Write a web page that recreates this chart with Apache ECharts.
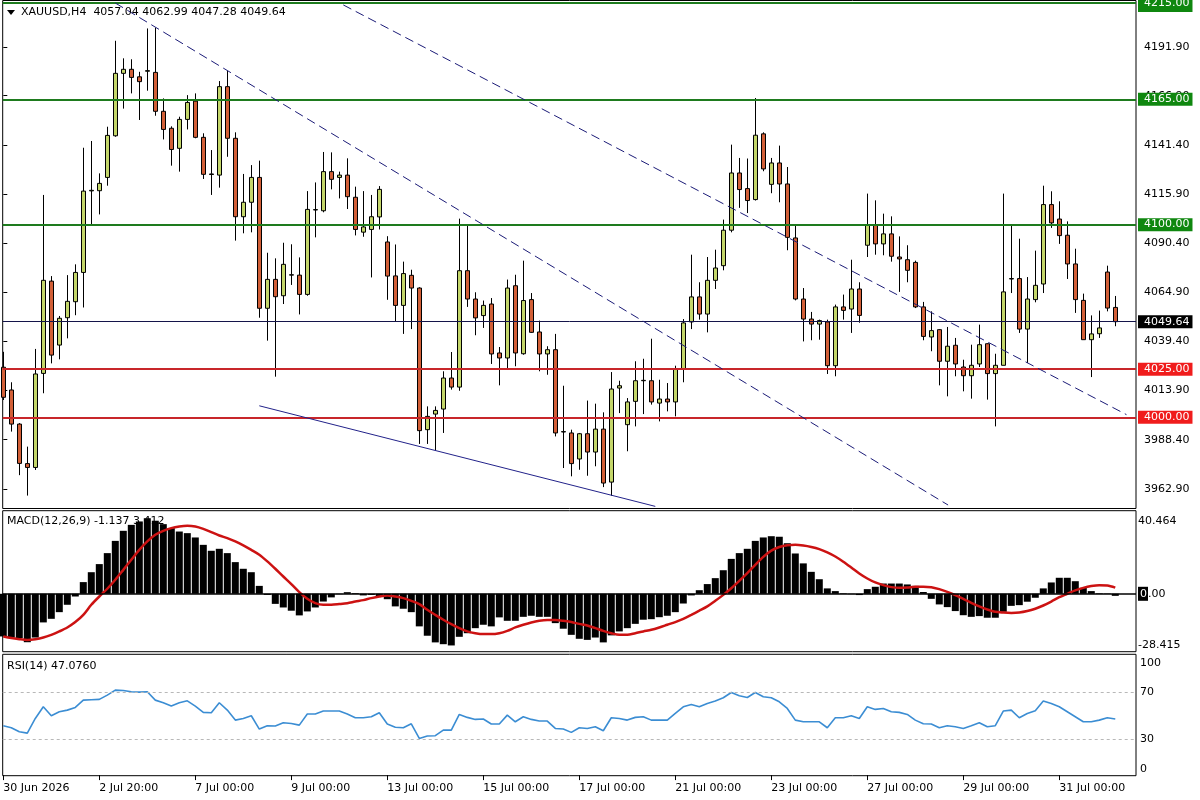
<!DOCTYPE html>
<html><head><meta charset="utf-8">
<script src="https://cdn.jsdelivr.net/npm/echarts@6/dist/echarts.min.js"></script>
<style>html,body{margin:0;padding:0;background:#fff}#c{width:1200px;height:800px}</style>
</head><body><div id="c"></div>
<script>
const symbol = 'XAUUSD,H4';
const opens = [4026.0,4014.2,3996.5,3976.0,3974.0,4022.8,4070.7,4037.5,4051.7,4060.0,
4075.2,4117.5,4117.6,4124.5,4146.1,4178.5,4180.6,4176.7,4179.6,4179.0,
4158.8,4150.0,4139.6,4154.6,4164.1,4145.3,4126.0,4125.7,4171.6,4144.8,
4104.1,4111.6,4124.5,4056.6,4071.6,4063.1,4073.8,4073.8,4063.8,4107.6,
4107.2,4127.5,4124.5,4125.7,4114.2,4096.1,4097.5,4104.0,4091.0,4073.4,
4058.1,4073.7,4067.1,3993.6,4001.7,4004.3,4020.4,4015.7,4076.1,4061.4,
4052.8,4058.8,4033.4,4030.8,4068.3,4033.0,4061.1,4044.3,4032.9,4035.1,
3992.4,3991.9,3978.4,3991.5,3982.0,3993.9,3966.4,4015.2,3996.2,4008.3,
4019.0,4019.0,4007.4,4009.5,4008.0,4025.1,4049.5,4062.5,4053.6,4071.1,
4078.7,4097.1,4126.8,4118.7,4113.0,4147.1,4120.9,4132.0,4121.1,4093.1,
4061.4,4051.0,4048.4,4049.5,4026.8,4057.3,4056.2,4066.6,4089.3,4100.0,
4090.0,4095.2,4083.2,4081.8,4080.4,4057.3,4041.7,4045.5,4029.1,4037.4,
4026.1,4021.6,4027.7,4038.2,4022.7,4027.0,4071.8,4072.0,4045.8,4061.1,
4069.2,4110.4,4102.9,4094.5,4079.6,4060.7,4040.3,4043.4,4075.4,4057.04];
const highs = [4034.0,4018.2,3997.0,3984.8,4035.5,4115.4,4073.3,4052.6,4073.8,4079.4,
4139.9,4143.4,4126.6,4150.8,4195.4,4186.3,4185.8,4179.3,4201.8,4202.2,
4165.5,4151.0,4156.0,4167.2,4168.1,4147.4,4138.7,4174.5,4179.7,4147.9,
4126.3,4130.9,4133.2,4085.4,4082.5,4090.6,4089.8,4083.0,4117.4,4121.9,
4137.7,4137.5,4127.5,4134.4,4119.7,4117.4,4115.4,4120.0,4094.0,4089.7,
4080.8,4076.6,4067.5,4005.7,4005.7,4023.9,4033.9,4103.1,4099.7,4064.9,
4060.6,4061.9,4036.5,4071.5,4074.0,4081.3,4064.5,4050.2,4036.9,4043.3,
4016.4,3993.6,3991.9,4008.7,4007.1,4002.6,4023.5,4019.0,4010.0,4029.1,
4030.4,4040.8,4019.5,4017.8,4026.8,4051.0,4084.4,4070.1,4083.2,4087.0,
4102.6,4141.5,4134.6,4134.3,4165.7,4147.9,4134.6,4141.0,4129.9,4099.5,
4067.1,4054.7,4050.7,4050.7,4058.5,4063.7,4081.8,4070.1,4116.1,4112.6,
4105.7,4104.3,4093.9,4089.3,4081.3,4059.9,4055.0,4045.8,4046.9,4041.2,
4029.9,4037.7,4048.1,4038.4,4033.0,4116.1,4100.0,4092.7,4072.8,4086.5,
4120.2,4117.3,4112.1,4101.7,4087.5,4064.2,4052.9,4055.4,4078.7,4062.99];
const lows = [4009.0,3992.6,3970.0,3959.4,3972.7,4012.5,4028.0,4030.1,4041.0,4053.0,
4057.0,4100.3,4105.3,4120.2,4145.6,4160.2,4168.1,4154.3,4169.5,4156.5,
4144.2,4130.6,4127.5,4149.4,4144.8,4123.7,4115.4,4119.2,4135.2,4091.7,
4095.5,4096.0,4051.7,4039.8,4021.1,4058.8,4068.7,4053.4,4063.1,4093.4,
4106.4,4118.3,4113.6,4108.1,4094.4,4093.7,4072.6,4097.5,4061.0,4049.7,
4043.3,4045.8,3986.2,3986.2,3982.9,3991.9,4014.4,4013.8,4057.3,4042.6,
4046.4,4027.7,4016.6,4025.6,4026.5,4032.5,4043.8,4023.9,4022.1,3990.1,
3973.7,3969.4,3972.8,3969.7,3974.6,3963.8,3959.3,4002.2,3982.4,3995.3,
4001.7,4006.6,3997.9,4003.1,4000.5,4018.2,4045.8,4050.7,4044.1,4066.6,
4076.3,4096.0,4108.7,4106.0,4112.5,4127.7,4116.3,4111.6,4086.7,4060.7,
4039.4,4040.0,4040.3,4022.5,4021.3,4050.7,4043.8,4049.1,4083.2,4084.4,
4084.1,4080.8,4065.1,4070.1,4056.7,4040.0,4034.3,4016.6,4010.9,4021.3,
4013.5,4009.7,4026.1,4009.2,3995.3,4027.0,4064.5,4043.8,4028.2,4059.7,
4064.5,4098.3,4090.0,4071.8,4054.2,4040.3,4020.9,4041.2,4055.0,4047.28];
const closes = [4010.4,3996.5,3976.1,3974.0,4022.5,4071.1,4032.3,4051.4,4060.2,4075.2,
4117.4,4117.8,4121.4,4146.3,4178.5,4180.6,4176.4,4174.2,4179.9,4158.8,
4149.4,4139.0,4154.6,4163.4,4145.3,4126.1,4126.3,4171.6,4144.8,4104.1,
4111.6,4124.5,4056.6,4071.6,4062.6,4079.4,4074.0,4063.8,4107.9,4107.8,
4127.5,4123.5,4125.7,4114.5,4097.5,4098.8,4104.1,4118.3,4073.3,4058.1,
4074.6,4067.1,3993.1,4000.5,4003.6,4020.4,4015.7,4076.1,4061.4,4051.6,
4058.1,4032.9,4030.8,4067.1,4033.4,4060.6,4044.1,4032.9,4035.1,3991.9,
3992.6,3976.0,3991.5,3982.0,3993.9,3965.9,4014.7,4016.4,4008.0,4019.0,
4019.2,4008.0,4009.5,4008.0,4025.1,4049.0,4062.5,4053.6,4071.1,4077.5,
4097.1,4126.8,4118.2,4112.5,4146.4,4128.9,4132.0,4121.1,4093.4,4061.4,
4051.0,4048.4,4050.2,4026.8,4057.3,4055.5,4066.6,4052.9,4100.0,4090.0,
4095.2,4083.6,4082.2,4076.3,4057.3,4042.0,4045.0,4029.1,4036.9,4027.7,
4021.6,4027.0,4037.7,4022.7,4027.0,4065.1,4072.0,4045.8,4061.4,4068.5,
4110.4,4100.9,4094.3,4079.6,4061.1,4040.3,4043.3,4046.4,4056.7,4049.64];
const macdHist = [-23.7,-24.3,-24.6,-26.9,-24.3,-15.9,-13.9,-10.2,-6.1,-1.5,
6.5,12.0,16.5,22.6,29.4,35.0,38.3,40.2,42.0,40.6,
38.7,36.5,34.6,33.7,31.3,27.2,23.9,25.0,22.6,17.6,
13.9,12.0,4.4,-0.6,-5.6,-7.6,-9.4,-12.0,-9.8,-7.6,
-4.3,-2.0,-0.2,0.9,0.4,-0.9,-0.6,-1.5,-3.0,-7.0,
-8.3,-10.2,-18.1,-23.3,-27.0,-28.0,-28.7,-23.9,-21.9,-19.1,
-17.2,-18.1,-13.1,-15.0,-15.0,-12.8,-12.2,-12.8,-12.8,-16.3,
-19.4,-22.8,-25.0,-25.6,-24.3,-27.0,-23.1,-20.9,-19.1,-16.7,
-14.4,-14.1,-13.0,-12.2,-10.2,-5.4,-0.9,2.0,5.4,8.7,
13.1,19.4,22.6,25.0,29.4,31.3,32.0,31.7,28.1,22.4,
16.9,12.2,8.1,3.0,1.5,0.3,-0.2,-0.7,2.6,3.9,
5.7,5.7,5.7,5.2,4.4,1.0,-2.8,-5.9,-7.4,-9.6,
-11.9,-12.8,-12.4,-13.3,-13.3,-10.0,-6.7,-6.3,-4.4,-2.2,
3.0,6.3,8.9,8.9,7.0,3.3,1.5,0.3,0.2,-1.137];
const macdSignal = [-23.7,-24.6,-25.2,-25.6,-25.2,-24.3,-22.8,-20.9,-18.7,-15.7,
-11.7,-6.1,-1.5,2.8,7.8,13.3,18.9,24.4,29.1,32.8,
35.0,36.5,37.4,37.8,37.4,36.1,34.3,32.4,30.9,29.1,
26.9,24.4,21.7,18.0,13.9,9.6,5.4,0.9,-2.8,-5.2,
-6.1,-6.1,-5.7,-5.2,-4.3,-3.5,-2.4,-1.5,-0.9,-1.5,
-2.4,-3.9,-5.7,-8.9,-11.7,-14.4,-16.9,-19.1,-20.9,-21.9,
-22.4,-22.4,-21.9,-20.6,-18.7,-17.2,-15.9,-15.0,-14.6,-14.6,
-15.0,-15.7,-16.7,-17.6,-19.1,-20.6,-21.9,-22.8,-22.8,-21.9,
-20.9,-20.0,-18.7,-17.2,-15.7,-13.9,-11.7,-9.4,-7.0,-3.9,
-0.6,3.1,7.2,11.5,16.1,20.5,24.0,26.0,27.0,27.2,
26.8,26.0,24.8,23.0,20.7,17.8,14.6,11.3,8.5,6.3,
4.8,3.7,3.3,3.5,3.9,3.9,3.7,2.6,1.1,-0.7,
-2.8,-5.0,-7.0,-8.7,-10.0,-10.4,-10.6,-10.4,-9.6,-8.3,
-6.5,-4.3,-1.9,0.0,1.9,3.3,4.3,4.8,4.6,3.412];
const rsi = [41.5,39.8,36.4,35.3,47.6,57.4,49.9,53.2,54.6,56.9,
63.0,63.3,63.6,67.2,71.4,71.1,70.0,69.7,70.0,63.0,
60.8,58.0,60.8,62.4,58.0,52.7,52.4,60.8,54.6,46.2,
47.6,49.9,38.7,41.5,41.2,44.0,43.4,42.0,51.3,51.3,
53.8,53.8,53.8,51.3,48.2,48.2,49.0,52.4,42.9,40.2,
39.8,43.1,30.8,32.8,33.1,37.8,37.8,51.0,48.5,46.8,
47.1,42.9,42.9,50.4,44.8,49.0,46.8,45.4,45.4,39.2,
38.7,35.9,39.8,39.2,40.6,37.3,48.2,47.6,46.2,48.5,
49.0,46.2,46.2,46.2,51.8,57.4,59.4,57.4,60.2,62.2,
65.0,69.4,66.6,65.2,69.4,65.8,65.0,61.6,56.0,46.2,
44.8,44.8,44.8,39.8,48.2,48.2,49.9,47.6,57.4,55.2,
56.0,53.2,52.7,51.0,46.2,43.1,42.9,39.8,41.5,40.6,
39.2,41.5,44.0,40.6,41.5,53.8,54.6,48.2,51.8,54.1,
62.2,60.2,57.4,53.2,49.0,44.8,44.8,46.2,48.2,47.076];
const xTickPos = [0,12,24,36,48,60,72,84,96,108,120,132];
const xTickLabels = ['30 Jun 2026','2 Jul 20:00','7 Jul 00:00','9 Jul 00:00','13 Jul 00:00','15 Jul 00:00',
  '17 Jul 00:00','21 Jul 00:00','23 Jul 00:00','27 Jul 00:00','29 Jul 00:00','31 Jul 00:00'];
const priceTicks = [4191.9,4166.9,4141.4,4115.9,4090.4,4064.9,4039.4,4013.9,3988.4,3962.9];
const macdTicks = [40.464,0,-28.415];
const rsiTicks = [100,70,30,0];
const rsiLevels = [70,30];
const resistance = [4215,4165,4100];
const support = [4025,4000];
const trendDashed = [[[42.5,4214],[140.4,4001.4]],[[14,4215],[118.1,3954.5]]];
const trendSolid = [[32,4006],[81.5,3953.8]];
const macdLast = -1.137, signalLast = 3.412, rsiLast = 47.0760;

const FONT = 'DejaVu Sans';
const last = closes.length - 1;
const bid = closes[last];
const yMax = 4216.3;

const candleData = opens.map((o,i)=>[i,o,closes[i],lows[i],highs[i]]);
const histData = macdHist.map((v,i)=>[i,v]);
const sigData = macdSignal.map((v,i)=>[i,v]);
const rsiData = rsi.map((v,i)=>[i,v]);

function hLine(v, lineColor, width, bg){
  const nearTop = (yMax - v) < 3;
  return {yAxis:v, lineStyle:{color:lineColor,width:width,type:'solid'},
    label:{show:true,position:'end',distance:2,formatter:v.toFixed(2),backgroundColor:bg,color:'#fff',
      padding:nearTop?[6,3,0,6]:[1,3,0,6],fontFamily:FONT,fontSize:11,lineHeight:12}};
}
const markData = [];
resistance.forEach(v=>markData.push(hLine(v,'#1e7b1e',2,'#0f870f')));
support.forEach(v=>markData.push(hLine(v,'#c8262a',2,'#f01c1c')));
markData.push(hLine(bid,'#14144a',1,'#000'));
trendDashed.forEach(t=>markData.push([{coord:t[0],lineStyle:{color:'#1c1c78',width:1,type:[9,5]},label:{show:false}},{coord:t[1]}]));
markData.push([{coord:trendSolid[0],lineStyle:{color:'#22228a',width:1,type:'solid'},label:{show:false}},{coord:trendSolid[1]}]);

const xBase = {type:'value',min:-0.075,max:141.59,splitLine:{show:false}};
const gridBase = {left:2.7,right:64,show:true,borderColor:'#000',borderWidth:1,backgroundColor:'#fff'};

const chart = echarts.init(document.getElementById('c'));
chart.setOption({
  animation:false,
  backgroundColor:'#fff',
  textStyle:{fontFamily:FONT},
  grid:[
    Object.assign({top:0.5,height:508},gridBase),
    Object.assign({top:510.7,height:141},gridBase),
    Object.assign({top:654.3,height:121.4},gridBase)
  ],
  xAxis:[
    Object.assign({gridIndex:0,show:false},xBase),
    Object.assign({gridIndex:1,show:false},xBase),
    Object.assign({gridIndex:2,show:true,position:'bottom',axisLine:{show:false},
      axisTick:{show:true,customValues:xTickPos,length:5,lineStyle:{color:'#000'}},
      axisLabel:{customValues:xTickPos,align:'left',margin:7,color:'#000',fontFamily:FONT,fontSize:11,
        formatter:v=>{const k=xTickPos.indexOf(Math.round(v));return k>=0?xTickLabels[k]:'';}}},xBase)
  ],
  yAxis:[
    {type:'value',gridIndex:0,position:'right',min:3952.7,max:yMax,splitLine:{show:false},axisLine:{show:false},
      axisTick:{show:true,customValues:priceTicks,length:4,lineStyle:{color:'#000'}},
      axisLabel:{customValues:priceTicks,margin:8,color:'#000',fontFamily:FONT,fontSize:11,formatter:v=>v.toFixed(2)}},
    {type:'value',gridIndex:1,position:'right',min:-32.17,max:46.17,splitLine:{show:false},axisLine:{show:false},
      axisTick:{show:false},
      axisLabel:{customValues:macdTicks,margin:2,color:'#000',fontFamily:FONT,fontSize:11,
        formatter:v=>v===0?'{box|0}.00':v.toFixed(3),
        rich:{box:{backgroundColor:'#000',color:'#fff',fontFamily:FONT,fontSize:11,padding:[2,1,1,2]}}}},
    {type:'value',gridIndex:2,position:'right',min:-0.5,max:101.5,splitLine:{show:false},axisLine:{show:false},
      axisTick:{show:false},
      axisLabel:{customValues:rsiTicks,margin:4,color:'#000',fontFamily:FONT,fontSize:11,
        formatter:v=>v===100?'{d|100}':(v===0?'{u|0}':String(v)),
        rich:{d:{padding:[15,0,0,0],fontFamily:FONT,fontSize:11,color:'#000'},
              u:{padding:[0,0,12,0],fontFamily:FONT,fontSize:11,color:'#000'}}}}
  ],
  series:[
    {type:'candlestick',xAxisIndex:0,yAxisIndex:0,data:candleData,barWidth:5,
      itemStyle:{color:'#c4d66a',color0:'#d25f37',borderColor:'#000',borderColor0:'#000',borderWidth:1},
      markLine:{silent:true,symbol:['none','none'],animation:false,data:markData}},
    {type:'bar',xAxisIndex:1,yAxisIndex:1,data:histData,barWidth:7,itemStyle:{color:'#000'},
      markLine:{silent:true,symbol:['none','none'],label:{show:false},
        data:[{yAxis:0,lineStyle:{color:'#000',width:1.5,type:'solid'}}]}},
    {type:'line',xAxisIndex:1,yAxisIndex:1,data:sigData,showSymbol:false,smooth:0.3,
      lineStyle:{color:'#cc1212',width:2.5},itemStyle:{color:'#cc1212'}},
    {type:'line',xAxisIndex:2,yAxisIndex:2,data:rsiData,showSymbol:false,
      lineStyle:{color:'#3b8dd3',width:1.6},itemStyle:{color:'#3b8dd3'},
      markLine:{silent:true,symbol:['none','none'],label:{show:false},
        data:rsiLevels.map(v=>({yAxis:v,lineStyle:{color:'#b8b8b8',width:1,type:[3,3]}}))}}
  ],
  graphic:[
    {type:'polygon',shape:{points:[[7,10],[15,10],[11,15]]},style:{fill:'#000'}},
    {type:'text',x:21,y:12.5,style:{text:symbol+'  '+[opens[last],highs[last],lows[last],closes[last]].map(v=>v.toFixed(2)).join(' '),
      font:'11px "DejaVu Sans"',fill:'#000',verticalAlign:'middle'},z:10},
    {type:'text',x:7,y:521,style:{text:'MACD(12,26,9) '+macdLast.toFixed(3)+' '+signalLast.toFixed(3),
      font:'11px "DejaVu Sans"',fill:'#000',verticalAlign:'middle'},z:10},
    {type:'text',x:7,y:666,style:{text:'RSI(14) '+rsiLast.toFixed(4),
      font:'11px "DejaVu Sans"',fill:'#000',verticalAlign:'middle'},z:10}
  ]
});
</script></body></html>
